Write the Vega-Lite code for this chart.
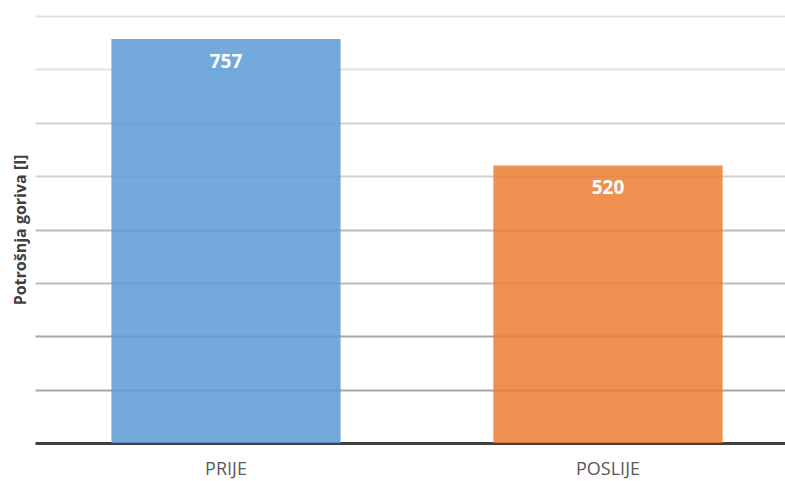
{
  "$schema": "https://vega.github.io/schema/vega-lite/v6.json",
  "autosize": "none",
  "padding": {"left": 35, "top": 16, "right": 0, "bottom": 38},
  "width": 764,
  "height": 427,
  "background": "white",
  "config": {"view": {"stroke": null}, "font": "Open Sans"},
  "data": {"values": [
    {"period": "PRIJE", "value": 757},
    {"period": "POSLIJE", "value": 520}
  ]},
  "encoding": {
    "x": {"field": "period", "type": "nominal", "sort": ["PRIJE", "POSLIJE"],
      "scale": {"paddingInner": 0.4, "paddingOuter": 0.2},
      "axis": {"title": null, "labelAngle": 0, "ticks": false, "domainColor": "#404040", "domainWidth": 3,
        "labelFontSize": 18, "labelColor": "#595959", "labelPadding": 17, "labelFont": "Open Sans"}},
    "y": {"field": "value", "type": "quantitative",
      "scale": {"domain": [0, 800]},
      "axis": {"title": "Potrošnja goriva [l]", "titleFontSize": 16, "titleFontWeight": "bold", "titleColor": "#404040",
        "titlePadding": 7, "labels": false, "ticks": false, "domain": false, "values": [100,200,300,400,500,600,700,800],
        "gridWidth": 2,
        "gridColor": {"condition": [
          {"test": "datum.value <= 200", "value": "#a6a6a6"},
          {"test": "datum.value <= 400", "value": "#bcbcbc"},
          {"test": "datum.value <= 600", "value": "#d2d2d2"}
        ], "value": "#e2e2e2"}}}
  },
  "layer": [
    {"mark": {"type": "bar", "opacity": 0.85},
      "encoding": {"color": {"field": "period", "type": "nominal", "legend": null,
        "scale": {"domain": ["PRIJE", "POSLIJE"], "range": ["#5B9BD5", "#ED7D31"]}}}},
    {"mark": {"type": "text", "baseline": "top", "dy": 14, "color": "white", "fontSize": 19, "fontWeight": "bold", "font": "Open Sans"},
      "encoding": {"text": {"field": "value", "type": "quantitative"}}}
  ]
}
